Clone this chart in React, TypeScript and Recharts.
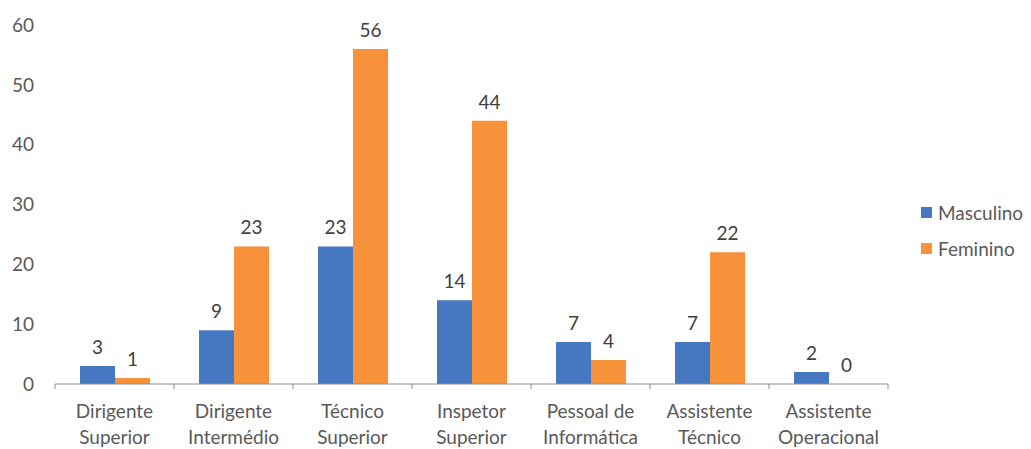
import React from "react"
import { BarChart, Bar, XAxis, YAxis, LabelList } from "recharts"

const categories = [
  ["Dirigente", "Superior"],
  ["Dirigente", "Intermédio"],
  ["Técnico", "Superior"],
  ["Inspetor", "Superior"],
  ["Pessoal de", "Informática"],
  ["Assistente", "Técnico"],
  ["Assistente", "Operacional"],
]
const masculino = [3, 9, 23, 14, 7, 7, 2]
const feminino = [1, 23, 56, 44, 4, 22, 0]
const yTicks = [0, 10, 20, 30, 40, 50, 60]

const BLUE = "#4677C1"
const ORANGE = "#F7923A"
const TEXT = "#595959"
const FONT = "Lato, 'Open Sans', sans-serif"
const FS = 19

const data = categories.map((c, i) => ({
  name: c.join("\n"),
  masculino: masculino[i],
  feminino: feminino[i],
}))

function CategoryTick(props: any) {
  const { x, y, payload, index } = props
  const half = payload.offset || 0
  const lines = String(payload.value).split("\n")
  const last = index === categories.length - 1
  return (
    <g>
      <line x1={x - half} x2={x - half} y1={y - 8} y2={y - 3} stroke="#8c8c8c" />
      {last && <line x1={x + half} x2={x + half} y1={y - 8} y2={y - 3} stroke="#8c8c8c" />}
      <text x={x} y={y + 26} textAnchor="middle" fill={TEXT} fontSize={FS} fontFamily={FONT}>
        {lines.map((l, i) => (
          <tspan key={i} x={x} dy={i === 0 ? 0 : 26}>
            {l}
          </tspan>
        ))}
      </text>
    </g>
  )
}

function LegendBox() {
  const items = [
    { label: "Masculino", color: BLUE },
    { label: "Feminino", color: ORANGE },
  ]
  return (
    <div style={{ position: "absolute", left: 921, top: 200, fontFamily: FONT, fontSize: FS, color: TEXT }}>
      {items.map((it) => (
        <div key={it.label} style={{ display: "flex", alignItems: "center", height: 24, marginBottom: 12 }}>
          <span style={{ display: "inline-block", width: 11, height: 11, background: it.color, marginRight: 6 }} />
          {it.label}
        </div>
      ))}
    </div>
  )
}

export default function App() {
  return (
    <div style={{ position: "absolute", left: 0, top: 0, width: 1031, height: 449, background: "#fff" }}>
      <BarChart
        width={1031}
        height={449}
        data={data}
        margin={{ top: 25, right: 143, left: 0, bottom: 0 }}
        barGap={0}
        barCategoryGap={25}
      >
        <XAxis
          dataKey="name"
          interval={0}
          tickLine={false}
          axisLine={{ stroke: "#8c8c8c" }}
          tick={<CategoryTick />}
          height={65}
        />
        <YAxis
          domain={[0, 60]}
          ticks={yTicks}
          width={55}
          axisLine={false}
          tickLine={false}
          tickSize={0}
          tickMargin={21}
          tick={{ fill: TEXT, fontSize: FS, fontFamily: FONT }}
        />
        <Bar dataKey="masculino" fill={BLUE} isAnimationActive={false} minPointSize={0.01}>
          <LabelList dataKey="masculino" position="top" offset={12} fill="#404040" fontSize={FS} fontFamily={FONT} />
        </Bar>
        <Bar dataKey="feminino" fill={ORANGE} isAnimationActive={false} minPointSize={0.01}>
          <LabelList dataKey="feminino" position="top" offset={12} fill="#404040" fontSize={FS} fontFamily={FONT} />
        </Bar>
      </BarChart>
      <LegendBox />
    </div>
  )
}
